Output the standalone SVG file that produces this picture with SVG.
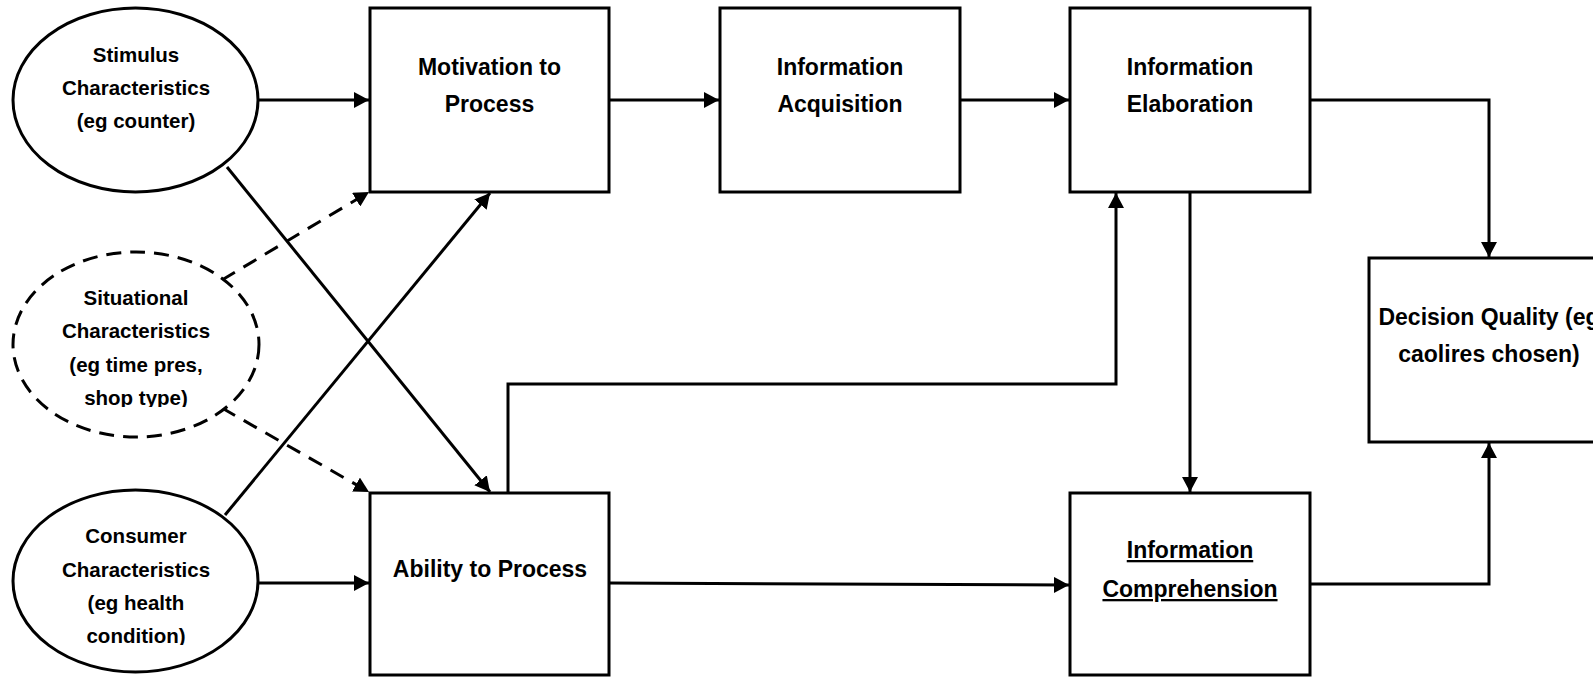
<svg xmlns="http://www.w3.org/2000/svg" width="1593" height="677" viewBox="0 0 1593 677">
<style>
.box{fill:#fff;stroke:#000;stroke-width:3}
.ell{fill:#fff;stroke:#000;stroke-width:3}
.dash{stroke-dasharray:15 9}
.t{font-family:"Liberation Sans",Arial,sans-serif;font-weight:bold;fill:#000;text-anchor:middle}
.et{font-size:20.5px}
.bt{font-size:23px}
.c{fill:none;stroke:#000;stroke-width:3}
.cd{stroke-dasharray:15 10}
</style>
<defs>
<marker id="ah" markerUnits="userSpaceOnUse" markerWidth="16" markerHeight="16" refX="15" refY="8" orient="auto">
<path d="M0,0 L15,8 L0,16 z" fill="#000"/>
</marker>
<clipPath id="clipSit"><rect x="0" y="0" width="300" height="407"/></clipPath>
<clipPath id="clipCon"><rect x="0" y="0" width="300" height="645"/></clipPath>
</defs>
<rect width="1593" height="677" fill="#fff"/>

<g id="connectors">
<line class="c" x1="258" y1="100" x2="369" y2="100" marker-end="url(#ah)"/>
<line class="c" x1="609" y1="100" x2="719" y2="100" marker-end="url(#ah)"/>
<line class="c" x1="960" y1="100" x2="1069" y2="100" marker-end="url(#ah)"/>
<polyline class="c" points="1310,100 1489,100 1489,257" marker-end="url(#ah)"/>
<line class="c" x1="1190" y1="192" x2="1190" y2="492" marker-end="url(#ah)"/>
<polyline class="c" points="1310,584 1489,584 1489,443" marker-end="url(#ah)"/>
<line class="c" x1="258" y1="583" x2="369" y2="583" marker-end="url(#ah)"/>
<line class="c" x1="609" y1="583" x2="1069" y2="585" marker-end="url(#ah)"/>
<polyline class="c" points="508,493 508,384 1116,384 1116,193" marker-end="url(#ah)"/>
<line class="c" x1="227" y1="167" x2="490" y2="492" marker-end="url(#ah)"/>
<line class="c" x1="225" y1="515" x2="490" y2="193" marker-end="url(#ah)"/>
<line class="c cd" x1="222" y1="280" x2="369" y2="192" marker-end="url(#ah)"/>
<line class="c cd" x1="222" y1="408" x2="369" y2="492" marker-end="url(#ah)"/>
</g>

<g id="stimulus">
<ellipse class="ell" cx="135.5" cy="100" rx="122.5" ry="92"/>
<text class="t et" x="136" y="62">Stimulus</text>
<text class="t et" x="136" y="95">Characteristics</text>
<text class="t et" x="136" y="128">(eg counter)</text>
</g>

<g id="situational">
<ellipse class="ell dash" cx="136" cy="344.5" rx="123" ry="92.5"/>
<g clip-path="url(#clipSit)">
<text class="t et" x="136" y="305">Situational</text>
<text class="t et" x="136" y="338">Characteristics</text>
<text class="t et" x="136" y="372">(eg time pres,</text>
<text class="t et" x="136" y="405">shop type)</text>
</g>
</g>

<g id="consumer">
<ellipse class="ell" cx="135.5" cy="581" rx="122.5" ry="91"/>
<g clip-path="url(#clipCon)">
<text class="t et" x="136" y="543">Consumer</text>
<text class="t et" x="136" y="577">Characteristics</text>
<text class="t et" x="136" y="610">(eg health</text>
<text class="t et" x="136" y="643">condition)</text>
</g>
</g>

<g id="motivation">
<rect class="box" x="370" y="8" width="239" height="184"/>
<text class="t bt" x="489.5" y="75">Motivation to</text>
<text class="t bt" x="489.5" y="112">Process</text>
</g>

<g id="acquisition">
<rect class="box" x="720" y="8" width="240" height="184"/>
<text class="t bt" x="840" y="75">Information</text>
<text class="t bt" x="840" y="112">Acquisition</text>
</g>

<g id="elaboration">
<rect class="box" x="1070" y="8" width="240" height="184"/>
<text class="t bt" x="1190" y="75">Information</text>
<text class="t bt" x="1190" y="112">Elaboration</text>
</g>

<g id="decision">
<rect class="box" x="1369" y="258" width="240" height="184"/>
<text class="t bt" x="1489" y="325">Decision Quality (eg</text>
<text class="t bt" x="1489" y="362">caolires chosen)</text>
</g>

<g id="ability">
<rect class="box" x="370" y="493" width="239" height="182"/>
<text class="t bt" x="490" y="577">Ability to Process</text>
</g>

<g id="comprehension">
<rect class="box" x="1070" y="493" width="240" height="182"/>
<text class="t bt" x="1190" y="558" text-decoration="underline">Information</text>
<text class="t bt" x="1190" y="597" text-decoration="underline">Comprehension</text>
</g>
</svg>
